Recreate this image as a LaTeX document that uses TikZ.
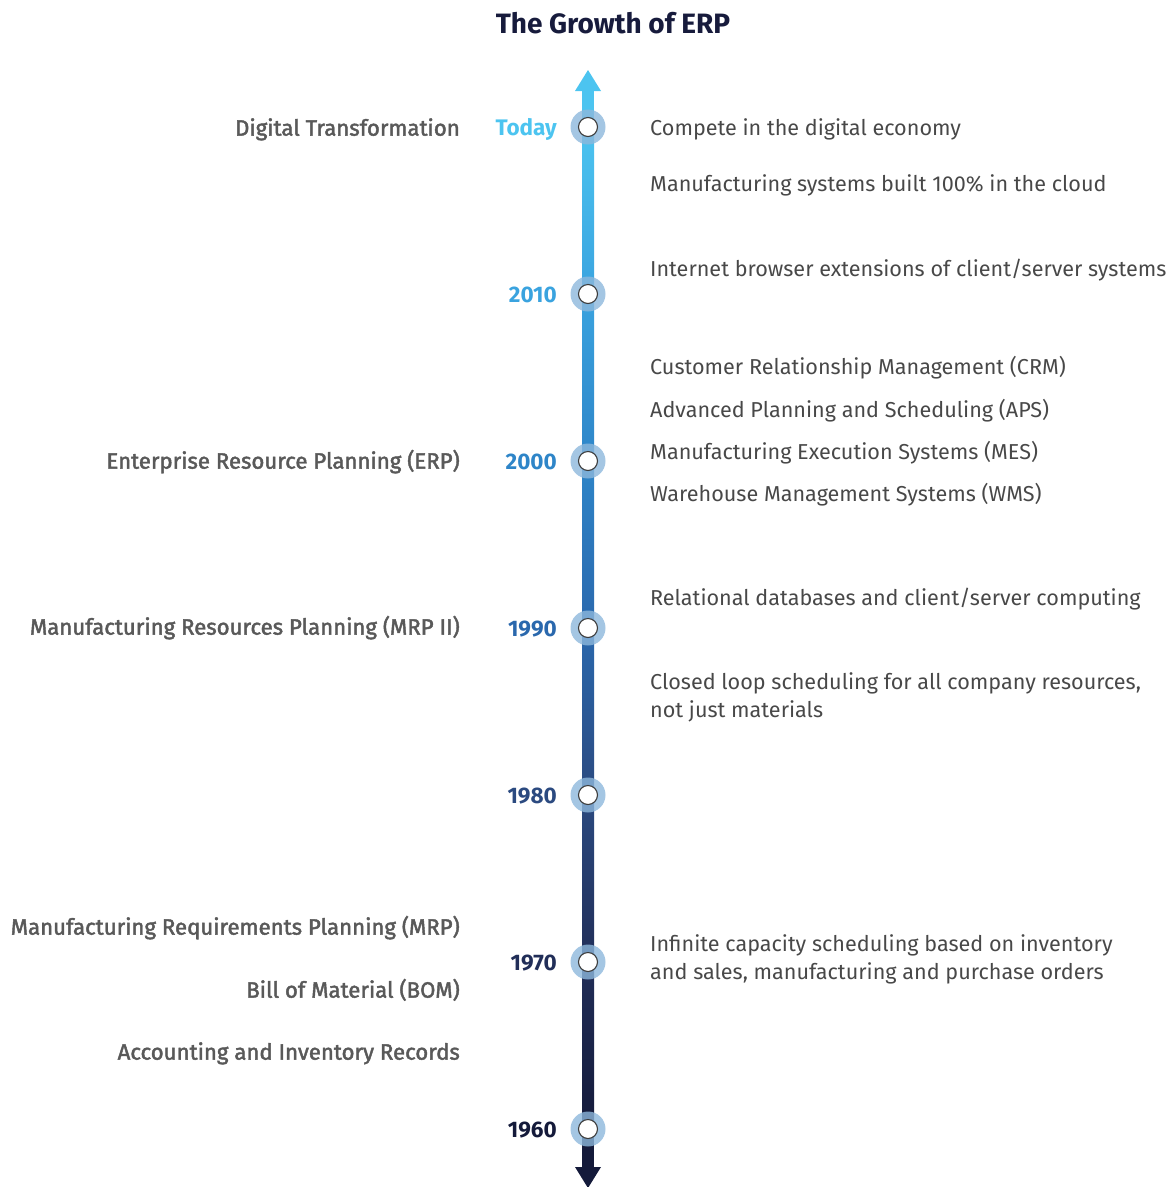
\documentclass[tikz,border=0pt]{standalone}
\usepackage{fontspec}
\setmainfont{Fira Sans}
\newfontfamily\medfont{Fira Sans}[FakeBold=2]
\usetikzlibrary{calc}

\definecolor{cToday}{HTML}{4CC4F0}
\definecolor{c2010}{HTML}{3AA3DF}
\definecolor{c2000}{HTML}{2E85C8}
\definecolor{c1990}{HTML}{2A68AD}
\definecolor{c1980}{HTML}{2B4A80}
\definecolor{c1970}{HTML}{212E58}
\definecolor{c1960}{HTML}{141A3A}
\definecolor{titlecol}{HTML}{171B3C}
\definecolor{leftcol}{HTML}{595959}
\definecolor{rightcol}{HTML}{484848}
\definecolor{halocol}{HTML}{8DB8DC}
\definecolor{dotrim}{HTML}{3C3C3C}

\tikzset{
  halo/.style={circle, inner sep=0pt, minimum size=35pt, fill=halocol, fill opacity=0.8},
  dot/.style={circle, inner sep=0pt, minimum size=19pt, fill=white, draw=dotrim, line width=1.1pt},
  era/.style={anchor=mid east, yshift=-5pt, font=\fontsize{22.2}{26}\medfont, text=leftcol, inner sep=0pt},
  year/.style={anchor=mid east, yshift=-5pt, font=\fontsize{22.5}{26}\selectfont\bfseries, inner sep=0pt},
  event/.style={anchor=mid west, yshift=-5pt, font=\fontsize{21.6}{26}\selectfont, text=rightcol, inner sep=0pt},
  event2/.style={anchor=north west, yshift=-5pt, font=\fontsize{21.6}{28}\selectfont, text=rightcol, inner sep=0pt, align=left},
}

\begin{document}
\begin{tikzpicture}[x=1pt, y=-1pt]
\useasboundingbox (0,0) rectangle (1174,1187);

% title
\node[font=\fontsize{28}{32}\selectfont\bfseries, text=titlecol] (title) at (613,23) {The Growth of ERP};

% positions on the time axis
\coordinate (top) at (588,70);
\coordinate (bot) at (588,1188);
\coordinate (p0) at (588,127);
\coordinate (p1) at (588,294);
\coordinate (p2) at (588,461);
\coordinate (p3) at (588,628);
\coordinate (p4) at (588,795);
\coordinate (p5) at (588,962);
\coordinate (p6) at (588,1129);

% axis bar, shaded segment by segment
\fill[cToday] ($(top)+(-6,18)$) rectangle ($(p0)+(6,0)$);
\shade[top color=cToday, bottom color=c2010] ($(p0)+(-6,0)$) rectangle ($(p1)+(6,0)$);
\shade[top color=c2010, bottom color=c2000] ($(p1)+(-6,0)$) rectangle ($(p2)+(6,0)$);
\shade[top color=c2000, bottom color=c1990] ($(p2)+(-6,0)$) rectangle ($(p3)+(6,0)$);
\shade[top color=c1990, bottom color=c1980] ($(p3)+(-6,0)$) rectangle ($(p4)+(6,0)$);
\shade[top color=c1980, bottom color=c1970] ($(p4)+(-6,0)$) rectangle ($(p5)+(6,0)$);
\shade[top color=c1970, bottom color=c1960] ($(p5)+(-6,0)$) rectangle ($(p6)+(6,0)$);
\fill[c1960] ($(p6)+(-6,0)$) rectangle ($(bot)+(6,-20)$);

% arrow heads
\fill[cToday] (top) -- ++(13,21) -- ++(-26,0) -- cycle;
\fill[c1960] (bot) -- ++(13,-21) -- ++(-26,0) -- cycle;

% markers
\foreach \i in {0,...,6} {
  \node[halo] (h\i) at (p\i) {};
  \node[dot] (m\i) at (p\i) {};
}

% years
\node[year, text=cToday] (y0) at (557,128) {Today};
\node[year, text=c2010]  (y1) at (557,295) {2010};
\node[year, text=c2000]  (y2) at (557,462) {2000};
\node[year, text=c1990]  (y3) at (557,629) {1990};
\node[year, text=c1980]  (y4) at (557,796) {1980};
\node[year, text=c1970]  (y5) at (557,963) {1970};
\node[year, text=c1960]  (y6) at (557,1130) {1960};

% eras, left side
\node[era] (e0) at (460,128) {Digital Transformation};
\node[era] (e1) at (460,461) {Enterprise Resource Planning (ERP)};
\node[era] (e2) at (460,627) {Manufacturing Resources Planning (MRP II)};
\node[era] (e3) at (460,927) {Manufacturing Requirements Planning (MRP)};
\node[era] (e4) at (460,990) {Bill of Material (BOM)};
\node[era] (e5) at (460,1052) {Accounting and Inventory Records};

% events, right side
\node[event] (r0) at (650,128) {Compete in the digital economy};
\node[event] (r1) at (650,184) {Manufacturing systems built 100\% in the cloud};
\node[event] (r2) at (650,269) {Internet browser extensions of client/server systems};
\node[event] (r3) at (650,367) {Customer Relationship Management (CRM)};
\node[event] (r4) at (650,410) {Advanced Planning and Scheduling (APS)};
\node[event] (r5) at (650,452) {Manufacturing Execution Systems (MES)};
\node[event] (r6) at (650,494) {Warehouse Management Systems (WMS)};
\node[event] (r7) at (650,598) {Relational databases and client/server computing};
\node[event2] (r8) at (650,667) {Closed loop scheduling for all company resources,\\not just materials};
\node[event2] (r9) at (650,929) {Infinite capacity scheduling based on inventory\\and sales, manufacturing and purchase orders};
\end{tikzpicture}
\end{document}
